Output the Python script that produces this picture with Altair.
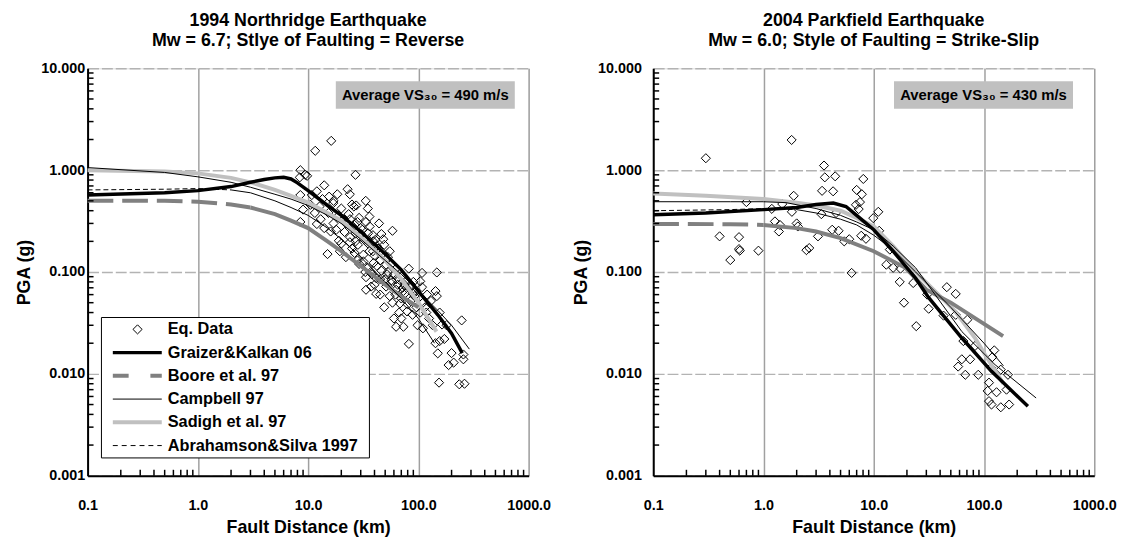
import altair as alt
import pandas as pd

FONT = "Liberation Sans"
W, H = 446, 412

# ---------------- 1994 Northridge (left panel) ----------------
nr_obs_dist = [16.2, 11.6, 8.5, 9.4, 9.8, 8.4, 26.9, 14.0, 22.8, 23.9, 15.5, 18.4, 8.5, 10.8,
               33.3, 27.3, 26, 25, 16.9, 10.5, 12.7, 9.0, 34.8, 15.3, 23.3, 8.5, 12.0, 33.5,
               36.2, 26.4, 21.4, 30.2, 38.7, 46.2, 58.2, 19.0, 23.9, 28.3, 40.7, 49.0, 15.0,
               19.4, 26.4, 31.7, 38.7, 47.6, 31.7, 39.3, 51, 34.8, 46.2, 62.8, 81.8, 108, 147,
               33.5, 41.4, 50, 57, 67.2, 33.5, 41.4, 37.3, 51, 62.8, 76, 88.5, 104, 108, 101,
               143, 147, 58.2, 68, 80, 67, 79, 88.5, 104, 62.8, 73.2, 98.3, 156, 164, 247, 82,
               143, 156, 150, 256, 188, 209, 256, 154, 235, 262,
               21, 29, 36, 44, 27, 32, 43, 53, 57, 45, 70, 75, 90, 95, 120, 85, 115, 125, 18,
               22, 35, 40, 60, 65, 30, 48, 55, 11.5, 13, 17, 24, 28, 37, 42, 52, 63, 72, 84,
               12, 13.5, 17, 20, 19, 24, 28, 31, 35, 39, 42, 44, 36, 27, 25, 22, 29, 33, 38, 45,
               53, 58, 62, 70, 73, 78, 86, 92, 96, 110, 118, 130, 135, 70, 60, 49, 55, 45, 40,
               110, 172, 180, 200, 16, 20, 14]
nr_obs_pga = [1.94, 1.55, 1.0, 0.90, 0.88, 0.85, 0.90, 0.71, 0.65, 0.58, 0.55, 0.58, 0.57, 0.57,
              0.50, 0.45, 0.44, 0.46, 0.475, 0.457, 0.44, 0.41, 0.42, 0.38, 0.37, 0.31, 0.296, 0.31,
              0.28, 0.29, 0.247, 0.236, 0.23, 0.236, 0.254, 0.203, 0.196, 0.185, 0.207, 0.185, 0.15,
              0.16, 0.154, 0.148, 0.16, 0.154, 0.127, 0.123, 0.118, 0.11, 0.103, 0.108, 0.108, 0.098, 0.099,
              0.089, 0.087, 0.085, 0.083, 0.084, 0.067, 0.061, 0.072, 0.072, 0.067, 0.062, 0.062, 0.081, 0.071, 0.056,
              0.065, 0.058, 0.050, 0.049, 0.048, 0.040, 0.041, 0.038, 0.040, 0.029, 0.029, 0.030, 0.040, 0.0305, 0.0335, 0.0197,
              0.020, 0.021, 0.0159, 0.0155, 0.0122, 0.0129, 0.0139, 0.0082, 0.0079, 0.0080,
              0.33, 0.34, 0.35, 0.30, 0.24, 0.21, 0.17, 0.14, 0.12, 0.13, 0.09, 0.075, 0.08, 0.065, 0.06, 0.052, 0.045, 0.035, 0.26,
              0.30, 0.19, 0.145, 0.095, 0.075, 0.27, 0.21, 0.16, 0.38, 0.33, 0.30, 0.22, 0.13, 0.10, 0.115, 0.095, 0.085, 0.07, 0.07,
              0.62, 0.52, 0.50, 0.42, 0.36, 0.33, 0.31, 0.26, 0.24, 0.20, 0.18, 0.155, 0.16, 0.20, 0.17, 0.14, 0.12, 0.10, 0.095, 0.085,
              0.10, 0.08, 0.06, 0.055, 0.065, 0.07, 0.075, 0.058, 0.045, 0.05, 0.04, 0.052, 0.03, 0.035, 0.035, 0.045, 0.058, 0.06, 0.075,
              0.028, 0.022, 0.03, 0.016, 0.25, 0.19, 0.27]

nr_gk_dist = [0.1, 0.5, 1, 2, 3, 4, 5, 6, 7, 8, 10, 15, 20, 30, 50, 70, 100, 150, 200, 250]
nr_gk_pga = [0.57, 0.60, 0.63, 0.69, 0.76, 0.81, 0.84, 0.85, 0.82, 0.75, 0.63, 0.45, 0.36, 0.25, 0.15, 0.105, 0.065, 0.038, 0.025, 0.016]

nr_boore_dist = [0.1, 0.5, 1, 2, 3, 5, 7, 10, 15, 20, 30, 50, 70, 100]
nr_boore_pga = [0.50, 0.50, 0.49, 0.46, 0.43, 0.37, 0.32, 0.27, 0.20, 0.16, 0.115, 0.075, 0.058, 0.045]

nr_camp_dist = [0.1, 0.5, 1, 2, 3, 5, 7, 10, 15, 20, 30, 50, 70, 100, 150, 200, 290]
nr_camp_pga = [1.06, 0.95, 0.86, 0.76, 0.68, 0.58, 0.52, 0.45, 0.36, 0.30, 0.21, 0.13, 0.095, 0.065, 0.042, 0.030, 0.0175]

nr_sad_dist = [0.1, 0.5, 1, 2, 3, 5, 7, 10, 15, 20, 30, 50, 70, 100, 146]
nr_sad_pga = [1.0, 0.97, 0.93, 0.84, 0.76, 0.64, 0.56, 0.48, 0.38, 0.32, 0.22, 0.13, 0.085, 0.05, 0.026]

nr_as_dist = [0.1, 0.5, 1, 2, 3, 5, 7, 10, 15, 20, 30, 50, 70, 100, 140]
nr_as_pga = [0.64, 0.65, 0.66, 0.64, 0.60, 0.50, 0.43, 0.36, 0.27, 0.21, 0.14, 0.08, 0.055, 0.035, 0.02]

# ---------------- 2004 Parkfield (right panel) ----------------
pk_obs_dist = [0.30, 1.80, 3.54, 3.6, 4.47, 3.40, 4.28, 8.04, 7.0, 7.8, 1.88, 0.70, 1.48, 1.19, 1.81,
               3.35, 4.55, 6.9, 7.5, 7.3, 11.0, 9.9, 1.27, 1.41, 2.0, 2.05, 4.2, 4.8, 3.12, 11.2, 7.7,
               8.5, 5.4, 6.0, 1.38, 0.40, 0.60, 0.60, 0.61, 0.90, 0.50, 2.45, 2.6, 6.3, 14.0, 13.0,
               15.0, 17.5, 17.2, 22.8, 46, 55.4, 30.5, 18.8, 31.5, 24.3, 43, 55.4, 70.6, 65, 82.8,
               62.9, 74.8, 58.3, 67.7, 88.7, 124, 119, 116, 165, 111, 108, 130, 160, 111, 117, 142, 169, 142]
pk_obs_pga = [1.31, 1.98, 1.11, 0.85, 0.87, 0.627, 0.62, 0.82, 0.64, 0.58, 0.56, 0.486, 0.465, 0.417, 0.39,
              0.37, 0.38, 0.457, 0.486, 0.415, 0.39, 0.338, 0.314, 0.29, 0.30, 0.28, 0.26, 0.254, 0.224, 0.254, 0.227,
              0.212, 0.20, 0.21, 0.25, 0.224, 0.22, 0.168, 0.162, 0.162, 0.131, 0.164, 0.172, 0.098, 0.166, 0.118,
              0.11, 0.108, 0.08, 0.078, 0.071, 0.061, 0.06, 0.050, 0.0436, 0.0294, 0.0373, 0.038, 0.034, 0.021, 0.0188,
              0.0139, 0.0139, 0.0118, 0.0098, 0.0098, 0.0170, 0.0146, 0.0115, 0.0098, 0.0082, 0.0068, 0.0066, 0.0070, 0.0054, 0.0050, 0.0047, 0.0050, 0.011]

pk_gk_dist = [0.1, 0.3, 1, 2, 3, 4.3, 5.6, 7, 10, 15, 24, 31.5, 63, 117, 250]
pk_gk_pga = [0.365, 0.38, 0.41, 0.43, 0.46, 0.475, 0.44, 0.36, 0.26, 0.16, 0.087, 0.056, 0.0225, 0.0106, 0.0048]

pk_boore_dist = [0.1, 0.5, 1, 2, 3, 5, 10, 19.4, 30, 50, 100, 149]
pk_boore_pga = [0.296, 0.295, 0.29, 0.27, 0.25, 0.215, 0.16, 0.11, 0.067, 0.05, 0.031, 0.0235]

pk_camp_dist = [0.1, 0.5, 1, 1.6, 3, 5, 7, 10, 15, 24, 63, 126, 297]
pk_camp_pga = [0.49, 0.49, 0.49, 0.48, 0.42, 0.36, 0.31, 0.26, 0.18, 0.11, 0.026, 0.0123, 0.0058]

pk_sad_dist = [0.1, 0.3, 1, 2, 3, 5, 7, 10, 15, 24, 55, 83, 102, 150]
pk_sad_pga = [0.59, 0.56, 0.52, 0.48, 0.45, 0.40, 0.34, 0.28, 0.18, 0.10, 0.041, 0.0225, 0.0155, 0.008]

pk_as_dist = [0.1, 0.5, 1, 2, 3, 5, 7, 10, 15, 24, 50, 100, 150]
pk_as_pga = [0.40, 0.41, 0.42, 0.41, 0.38, 0.33, 0.29, 0.23, 0.165, 0.10, 0.045, 0.02, 0.012]

legend_names = ["Eq. Data", "Graizer&Kalkan 06", "Boore et al. 97", "Campbell 97",
                "Sadigh et al. 97", "Abrahamson&Silva 1997"]

xticks = [0.1, 1, 10, 100, 1000]
yticks = [0.001, 0.01, 0.1, 1, 10]
x_minor = [m * 10 ** k for k in range(-1, 3) for m in range(2, 10)]
y_minor = [m * 10 ** k for k in range(-3, 1) for m in range(2, 10)]

xs = alt.Scale(type="log", domain=[0.1, 1000], nice=False)
ys = alt.Scale(type="log", domain=[0.001, 10], nice=False)

STYLE = {
    "gk": dict(color="black", strokeWidth=3.5),
    "boore": dict(color="#808080", strokeWidth=4),
    "camp": dict(color="black", strokeWidth=1),
    "sad": dict(color="#c0c0c0", strokeWidth=4),
    "as": dict(color="black", strokeWidth=1),
}
DASH = {"boore": [26, 9], "as": [5, 3]}


def axes(ylabpad):
    xa = alt.Axis(values=xticks, format=".1f", title="Fault Distance (km)", grid=True,
                  gridColor="#a0a0a0", gridWidth=1.5, ticks=False, domainColor="black",
                  domainWidth=2, labelFont=FONT, labelFontSize=14.5, labelFontWeight="bold",
                  labelColor="black", labelPadding=23, labelFlush=False, labelOverlap=False,
                  titleFont=FONT, titleFontSize=18, titleFontWeight="bold", titleColor="black",
                  titlePadding=7)
    ya = alt.Axis(values=yticks, format=".3f", title="PGA (g)", grid=True,
                  gridColor="#b3b3b3", gridWidth=1.5, gridDash=[11, 3], ticks=False,
                  domainColor="black", domainWidth=2, labelFont=FONT, labelFontSize=14.5,
                  labelFontWeight="bold", labelColor="black", labelPadding=ylabpad,
                  labelFlush=False, labelOverlap=False, titleFont=FONT, titleFontSize=18,
                  titleFontWeight="bold", titleColor="black", titlePadding=7)
    return xa, ya


def panel(obs_d, obs_p, models, title, vs_text, box_x, ylabpad, legend):
    xa, ya = axes(ylabpad)
    X = alt.X("R:Q", scale=xs, axis=xa)
    Y = alt.Y("PGA:Q", scale=ys, axis=ya)
    layers = []
    # data points
    layers.append(alt.Chart(pd.DataFrame({"R": obs_d, "PGA": obs_p})).mark_point(
        shape="diamond", filled=False, size=85, stroke="black", strokeWidth=1, opacity=1
    ).encode(x=X, y=Y))
    # model curves
    for key, (d, p, cut) in models:
        df = pd.DataFrame({"R": d, "PGA": p})
        st = STYLE[key]
        if key in DASH:
            dashed = df[df.R <= cut]
            solid = df[df.R >= dashed.R.max()]
            layers.append(alt.Chart(dashed).mark_line(strokeDash=DASH[key], **st).encode(x=X, y=Y))
            layers.append(alt.Chart(solid).mark_line(**st).encode(x=X, y=Y))
        else:
            layers.append(alt.Chart(df).mark_line(**st).encode(x=X, y=Y))
    # minor ticks (inside)
    layers.append(alt.Chart(pd.DataFrame({"R": x_minor})).mark_rule(color="black", strokeWidth=1.5).encode(
        x=X, y=alt.value(H), y2=alt.value(H - 6)))
    layers.append(alt.Chart(pd.DataFrame({"PGA": y_minor})).mark_rule(color="black", strokeWidth=1.5).encode(
        y=Y, x=alt.value(0), x2=alt.value(6)))
    # VS30 box
    one = alt.Data(values=[{"a": 1}])
    layers.append(alt.Chart(one).mark_rect(color="#c0c0c0").encode(
        x=alt.value(box_x), x2=alt.value(box_x + 181), y=alt.value(13), y2=alt.value(41)))
    layers.append(alt.Chart(one).mark_text(text=vs_text, font=FONT, fontSize=15, fontWeight="bold",
                                           color="black", align="center", baseline="middle").encode(
        x=alt.value(box_x + 90.5), y=alt.value(27.5)))
    if legend:
        layers.append(alt.Chart(one).mark_rect(fill="white", stroke="black", strokeWidth=1).encode(
            x=alt.value(14), x2=alt.value(285), y=alt.value(252), y2=alt.value(394)))
        keys = [None, "gk", "boore", "camp", "sad", "as"]
        legdash = {"boore": [16, 22], "as": [5, 4]}
        for i, (name, key) in enumerate(zip(legend_names, keys)):
            yy = 264 + i * 23.5
            if key is None:
                layers.append(alt.Chart(one).mark_point(shape="diamond", filled=False, size=85,
                                                        stroke="black", strokeWidth=1, opacity=1).encode(
                    x=alt.value(50.5), y=alt.value(yy)))
            else:
                st = dict(STYLE[key])
                kw = {"strokeDash": legdash[key]} if key in legdash else {}
                layers.append(alt.Chart(one).mark_rule(color=st["color"], strokeWidth=st["strokeWidth"], **kw).encode(
                    x=alt.value(25.5), x2=alt.value(75), y=alt.value(yy)))
            layers.append(alt.Chart(one).mark_text(text=name, font=FONT, fontSize=16.5, fontWeight="bold",
                                                   color="black", align="left", baseline="middle").encode(
                x=alt.value(81), y=alt.value(yy)))
    return alt.layer(*layers).properties(
        width=W, height=H,
        title=alt.TitleParams(text=title, font=FONT, fontSize=18, fontWeight="bold", color="black",
                              anchor="middle", offset=11, lineHeight=20))


left = panel(nr_obs_dist, nr_obs_pga,
             [("sad", (nr_sad_dist, nr_sad_pga, 0)),
              ("boore", (nr_boore_dist, nr_boore_pga, 3)),
              ("camp", (nr_camp_dist, nr_camp_pga, 0)),
              ("as", (nr_as_dist, nr_as_pga, 2)),
              ("gk", (nr_gk_dist, nr_gk_pga, 0))],
             ["1994 Northridge Earthquake", "Mw = 6.7; Stlye of Faulting = Reverse"],
             "Average VS\u2083\u2080 = 490 m/s", 251, 3, True)

right = panel(pk_obs_dist, pk_obs_pga,
              [("sad", (pk_sad_dist, pk_sad_pga, 0)),
               ("boore", (pk_boore_dist, pk_boore_pga, 1)),
               ("camp", (pk_camp_dist, pk_camp_pga, 0)),
               ("as", (pk_as_dist, pk_as_pga, 2)),
               ("gk", (pk_gk_dist, pk_gk_pga, 0))],
             ["2004 Parkfield Earthquake", "Mw = 6.0; Style of Faulting = Strike-Slip"],
             "Average VS\u2083\u2080 = 430 m/s", 243.5, 12, False)

chart = alt.hconcat(left, right, spacing=21).properties(
    padding={"left": 7.5, "top": 0, "right": 0, "bottom": 0}
).configure_view(stroke="black", strokeWidth=2).configure(background="white")

chart.save("out.html", embed_options={"renderer": "svg", "actions": False})
